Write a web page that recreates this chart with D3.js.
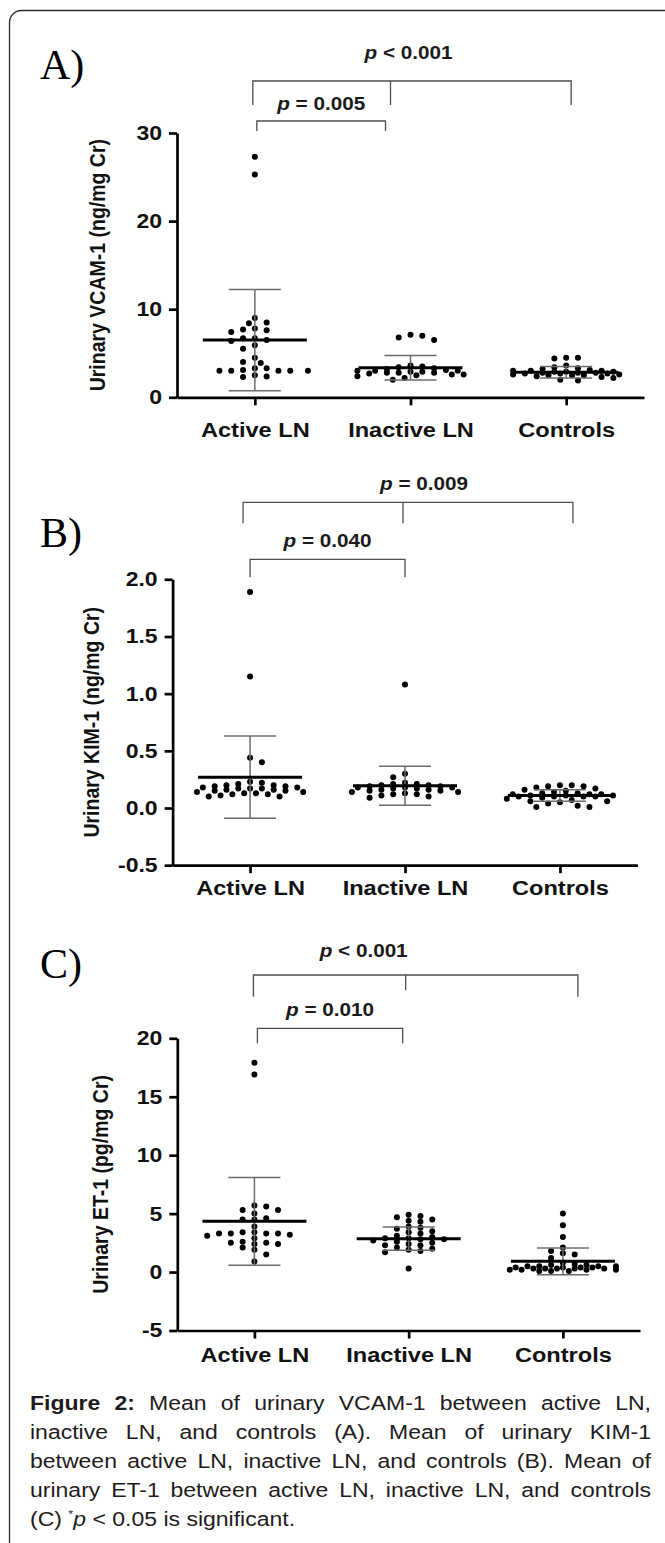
<!DOCTYPE html>
<html>
<head>
<meta charset="utf-8">
<script src="https://cdn.jsdelivr.net/npm/d3@7"></script>
<style>
  body { margin: 0; background: #fff; }
  #wrap { position: relative; width: 665px; height: 1543px; overflow: hidden; }
  #caption { position: absolute; left: 30px; top: 1389px; width: 540px;
    transform: scaleX(1.15); transform-origin: 0 0;
    font: 20px/29px "Liberation Sans", Arial, sans-serif; color: #1f1b1c; }
  #caption .j { text-align: justify; text-align-last: justify; white-space: nowrap; }
  #caption sup { font-size: 11px; line-height: 0; }
</style>
</head>
<body>
<div id="wrap"><div id="chart"></div><div id="caption"></div></div>
<script>
const width = 665;
const height = 1543;
const SX = 1.15; // the figure is a bit stretched sideways

const categories = ["Active LN", "Inactive LN", "Controls"];

// A) urinary VCAM-1 (ng/mg Cr)
const vcamActive = [27.3, 25.3, 9.0, 8.5, 8.4, 7.8, 7.7, 7.6, 7.4, 6.7, 6.7, 6.5, 6.4, 5.9, 5.5, 4.5, 4.0, 3.9, 3.3, 3.3, 3.1, 3.0, 3.0, 3.0, 3.0, 3.0, 2.5, 2.35, 2.3];
const vcamInactive = [7.1, 7.0, 6.8, 6.5, 3.6, 3.5, 3.4, 3.3, 3.2, 3.1, 3.0, 3.0, 3.0, 2.9, 2.9, 2.8, 2.8, 2.8, 2.7, 2.6, 2.6, 2.5, 2.4, 2.2, 2.0];
const vcamControls = [4.5, 4.5, 4.4, 3.6, 3.4, 3.3, 3.2, 3.1, 3.0, 3.0, 3.0, 2.9, 2.9, 2.9, 2.8, 2.8, 2.8, 2.7, 2.7, 2.7, 2.6, 2.6, 2.5, 2.5, 2.5, 2.4, 2.3, 2.2, 2.0, 1.9];
const vcamMean = [6.5, 3.35, 2.85];
const vcamSD = [5.75, 1.4, 0.65];
const vcamTicks = [0, 10, 20, 30];

// B) urinary KIM-1 (ng/mg Cr)
const kimActive = [1.89, 1.15, 0.44, 0.40, 0.23, 0.22, 0.21, 0.20, 0.20, 0.19, 0.19, 0.18, 0.18, 0.17, 0.17, 0.17, 0.16, 0.16, 0.15, 0.15, 0.14, 0.14, 0.13, 0.13, 0.12, 0.12, 0.11, 0.10, 0.10];
const kimInactive = [1.08, 0.30, 0.27, 0.22, 0.21, 0.21, 0.20, 0.20, 0.19, 0.19, 0.18, 0.18, 0.18, 0.17, 0.17, 0.16, 0.16, 0.15, 0.15, 0.14, 0.14, 0.13, 0.12, 0.12, 0.11, 0.10, 0.09];
const kimControls = [0.20, 0.20, 0.19, 0.19, 0.18, 0.17, 0.16, 0.15, 0.14, 0.13, 0.13, 0.12, 0.12, 0.12, 0.11, 0.11, 0.11, 0.10, 0.10, 0.10, 0.10, 0.09, 0.08, 0.07, 0.06, 0.06, 0.05, 0.04, 0.02, 0.01, 0.01];
const kimMean = [0.27, 0.195, 0.11];
const kimSD = [0.36, 0.17, 0.05];
const kimTicks = [-0.5, 0, 0.5, 1.0, 1.5, 2.0];

// C) urinary ET-1 (pg/mg Cr)
const etActive = [17.9, 16.9, 5.7, 5.6, 5.3, 5.3, 5.0, 4.6, 4.5, 4.5, 3.9, 3.4, 3.4, 3.3, 3.3, 3.3, 3.3, 3.2, 3.1, 2.9, 2.6, 2.5, 2.5, 2.4, 2.4, 2.1, 1.9, 1.5, 0.9];
const etInactive = [4.9, 4.8, 4.7, 4.5, 4.4, 4.3, 3.9, 3.8, 3.7, 3.5, 3.4, 3.3, 3.1, 3.0, 2.9, 2.9, 2.8, 2.8, 2.7, 2.6, 2.5, 2.4, 2.3, 2.3, 2.1, 2.0, 1.9, 1.8, 1.7, 0.3];
const etControls = [5.0, 4.0, 3.0, 2.1, 1.8, 1.6, 1.5, 1.2, 0.8, 0.7, 0.6, 0.6, 0.5, 0.5, 0.5, 0.5, 0.4, 0.4, 0.4, 0.4, 0.3, 0.3, 0.3, 0.3, 0.3, 0.2, 0.2, 0.2, 0.2, 0.1, 0.1, 0.1];
const etMean = [4.34, 2.86, 0.92];
const etSD = [3.76, 1.0, 1.14];
const etTicks = [-5, 0, 5, 10, 15, 20];

const panelTags = ["A)", "B)", "C)"];
const yLabels = ["Urinary VCAM-1 (ng/mg Cr)", "Urinary KIM-1 (ng/mg Cr)", "Urinary ET-1 (pg/mg Cr)"];
const pWide = ["< 0.001", "= 0.009", "< 0.001"];
const pNarrow = ["= 0.005", "= 0.040", "= 0.010"];

const captionLines = [
    ["Figure 2:", " Mean of urinary VCAM-1 between active LN,"],
    ["", "inactive LN, and controls (A). Mean of urinary KIM-1"],
    ["", "between active LN, inactive LN, and controls (B). Mean of"],
    ["", "urinary ET-1 between active LN, inactive LN, and controls"]
];

// layout of each panel (pixels)
const panels = [
    { groups: [vcamActive, vcamInactive, vcamControls], mean: vcamMean, sd: vcamSD, ticks: vcamTicks,
      fmt: d => String(d), left: 177, right: 644, top: 133, bottom: 397.3, tagY: 79, labelX: 105, catPad: 17,
      wide: { y: 81, y2: 105, ym: 105, d0: -2, d1: 5, dm: -20, tdx: -2, ty: 59 },
      narrow: { y: 121, y2: 131, d0: 2, d1: -25, ty: 110 } },
    { groups: [kimActive, kimInactive, kimControls], mean: kimMean, sd: kimSD, ticks: kimTicks,
      fmt: d => d.toFixed(1), left: 172.6, right: 637.4, top: 579.3, bottom: 865.2, tagY: 547, labelX: 99, catPad: 7,
      wide: { y: 502.3, y2: 523.3, ym: 523.3, d0: -7, d1: 13, dm: -2, tdx: 19, ty: 490 },
      narrow: { y: 559.3, y2: 577.3, d0: 0, d1: 0, ty: 547 } },
    { groups: [etActive, etInactive, etControls], mean: etMean, sd: etSD, ticks: etTicks,
      fmt: d => String(d), left: 177.3, right: 640, top: 1038.3, bottom: 1330.5, tagY: 978, labelX: 108, catPad: 8.5,
      wide: { y: 975, y2: 996.7, ym: 990, d0: -1, d1: 15, dm: -3, tdx: -45, ty: 957 },
      narrow: { y: 1028.3, y2: 1043.3, d0: 3, d1: -6, ty: 1016 } }
];

const svg = d3.select("#chart").append("svg").attr("width", width).attr("height", height);

// outer frame, rounded top-left corner
svg.append("rect")
    .attr("x", 9.5).attr("y", 10.5)
    .attr("width", 720).attr("height", 1620)
    .attr("rx", 12)
    .attr("fill", "none")
    .attr("stroke", "#2b2b2b")
    .attr("stroke-width", 1.3);

// simple beeswarm, like the GraphPad scatter dot plot
function swarm(values, y) {
    const half = 5.9, rx = 11.8, ry = 5.8, limit = 54;
    const placed = [];
    values.map(v => v).sort((a, b) => b - a).forEach((v, n) => {
        const py = y(v);
        let best = 0, bestScore = -1;
        outer: for (let k = 0; k * half <= limit; k++) {
            const signs = k === 0 ? [1] : (n % 2 ? [1, -1] : [-1, 1]);
            for (const s of signs) {
                const dx = s * k * half;
                let m = Infinity;
                for (const p of placed) {
                    const dd = Math.hypot((p.dx - dx) / rx, (p.y - py) / ry);
                    if (dd < m) m = dd;
                }
                if (m >= 1) { best = dx; bestScore = m; break outer; }
                if (m > bestScore) { bestScore = m; best = dx; }
            }
        }
        placed.push({ v: v, y: py, dx: best });
    });
    return placed;
}

const font = "'Liberation Sans', Arial, sans-serif";

panels.forEach((p, pi) => {
    const xScale = d3.scalePoint().domain(categories).range([p.left, p.right]).padding(0.5);
    const yScale = d3.scaleLinear().domain(d3.extent(p.ticks)).range([p.bottom, p.top]);
    const g = svg.append("g");

    // panel tag
    g.append("text")
        .attr("x", 40).attr("y", p.tagY)
        .attr("font-family", "'Liberation Serif', 'Times New Roman', serif")
        .attr("font-size", 42)
        .text(panelTags[pi]);

    // axes
    const yAxis = d3.axisLeft(yScale).tickValues(p.ticks).tickFormat(p.fmt).tickSize(8).tickSizeOuter(0).tickPadding(5);
    const xAxis = d3.axisBottom(xScale).tickSize(8).tickSizeOuter(0).tickPadding(p.catPad);

    const gy = g.append("g").attr("transform", `translate(${p.left},0)`).call(yAxis);
    const gx = g.append("g").attr("transform", `translate(0,${p.bottom})`).call(xAxis);

    [gy, gx].forEach(ax => {
        ax.select(".domain").attr("stroke", "#000").attr("stroke-width", 2.7);
        ax.selectAll(".tick line").attr("stroke", "#000").attr("stroke-width", 2.7);
        ax.selectAll(".tick text")
            .attr("font-family", font)
            .attr("font-weight", "bold")
            .attr("fill", "#111")
            .attr("transform", `scale(${SX},1)`);
    });
    gy.selectAll(".tick text").attr("font-size", 20);
    gx.selectAll(".tick text").attr("font-size", 20.5);

    // y label
    g.append("text")
        .attr("transform", `translate(${p.labelX},${(p.top + p.bottom) / 2}) scale(${SX},1) rotate(-90)`)
        .attr("text-anchor", "middle")
        .attr("font-family", font)
        .attr("font-weight", "bold")
        .attr("font-size", 19.5)
        .attr("fill", "#111")
        .text(yLabels[pi]);

    // dots
    p.groups.forEach((vals, ci) => {
        const cx = xScale(categories[ci]);
        g.append("g").selectAll("circle")
            .data(swarm(vals, yScale))
            .join("circle")
            .attr("cx", d => cx + d.dx)
            .attr("cy", d => d.y)
            .attr("r", 3)
            .attr("fill", "#000");
    });

    // mean and SD
    categories.forEach((c, ci) => {
        const cx = xScale(c);
        const m = p.mean[ci], s = p.sd[ci];
        const bars = g.append("g").attr("stroke", "#6b6b6b").attr("stroke-width", 1.5);
        bars.append("line").attr("x1", cx).attr("x2", cx).attr("y1", yScale(m + s)).attr("y2", yScale(m - s));
        bars.append("line").attr("x1", cx - 26).attr("x2", cx + 26).attr("y1", yScale(m + s)).attr("y2", yScale(m + s));
        bars.append("line").attr("x1", cx - 26).attr("x2", cx + 26).attr("y1", yScale(m - s)).attr("y2", yScale(m - s));
        g.append("line")
            .attr("x1", cx - 52).attr("x2", cx + 52)
            .attr("y1", yScale(m)).attr("y2", yScale(m))
            .attr("stroke", "#000").attr("stroke-width", 3);
    });

    // significance brackets
    const br = g.append("g").attr("fill", "none").attr("stroke", "#4d4d4d").attr("stroke-width", 1.3);
    const w = p.wide, n = p.narrow;
    const wx0 = xScale(categories[0]) + w.d0, wx1 = xScale(categories[2]) + w.d1, wxm = xScale(categories[1]) + w.dm;
    br.append("path").attr("d", `M${wx0},${w.y2}V${w.y}H${wx1}V${w.y2}M${wxm},${w.y}V${w.ym}`);
    const nx0 = xScale(categories[0]) + n.d0, nx1 = xScale(categories[1]) + n.d1;
    br.append("path").attr("d", `M${nx0},${n.y2}V${n.y}H${nx1}V${n.y2}`);

    const pText = (x, y, rest) => {
        const t = g.append("text")
            .attr("transform", `translate(${x},${y}) scale(${SX},1)`)
            .attr("text-anchor", "middle")
            .attr("font-family", font)
            .attr("font-weight", "bold")
            .attr("font-size", 18)
            .attr("fill", "#1a1a1a");
        t.append("tspan").attr("font-style", "italic").text("p");
        t.append("tspan").text(" " + rest);
    };
    pText(xScale(categories[1]) + w.tdx, w.ty, pWide[pi]);
    pText((nx0 + nx1) / 2, n.ty, pNarrow[pi]);
});

// caption
const cap = d3.select("#caption");
captionLines.forEach(l => {
    const line = cap.append("div").attr("class", "j");
    if (l[0]) line.append("b").text(l[0]);
    line.append("span").text(l[1]);
});
const last = cap.append("div");
last.append("span").text("(C) ");
last.append("sup").text("*");
last.append("i").text("p");
last.append("span").text(" < 0.05 is significant.");
</script>
</body>
</html>
